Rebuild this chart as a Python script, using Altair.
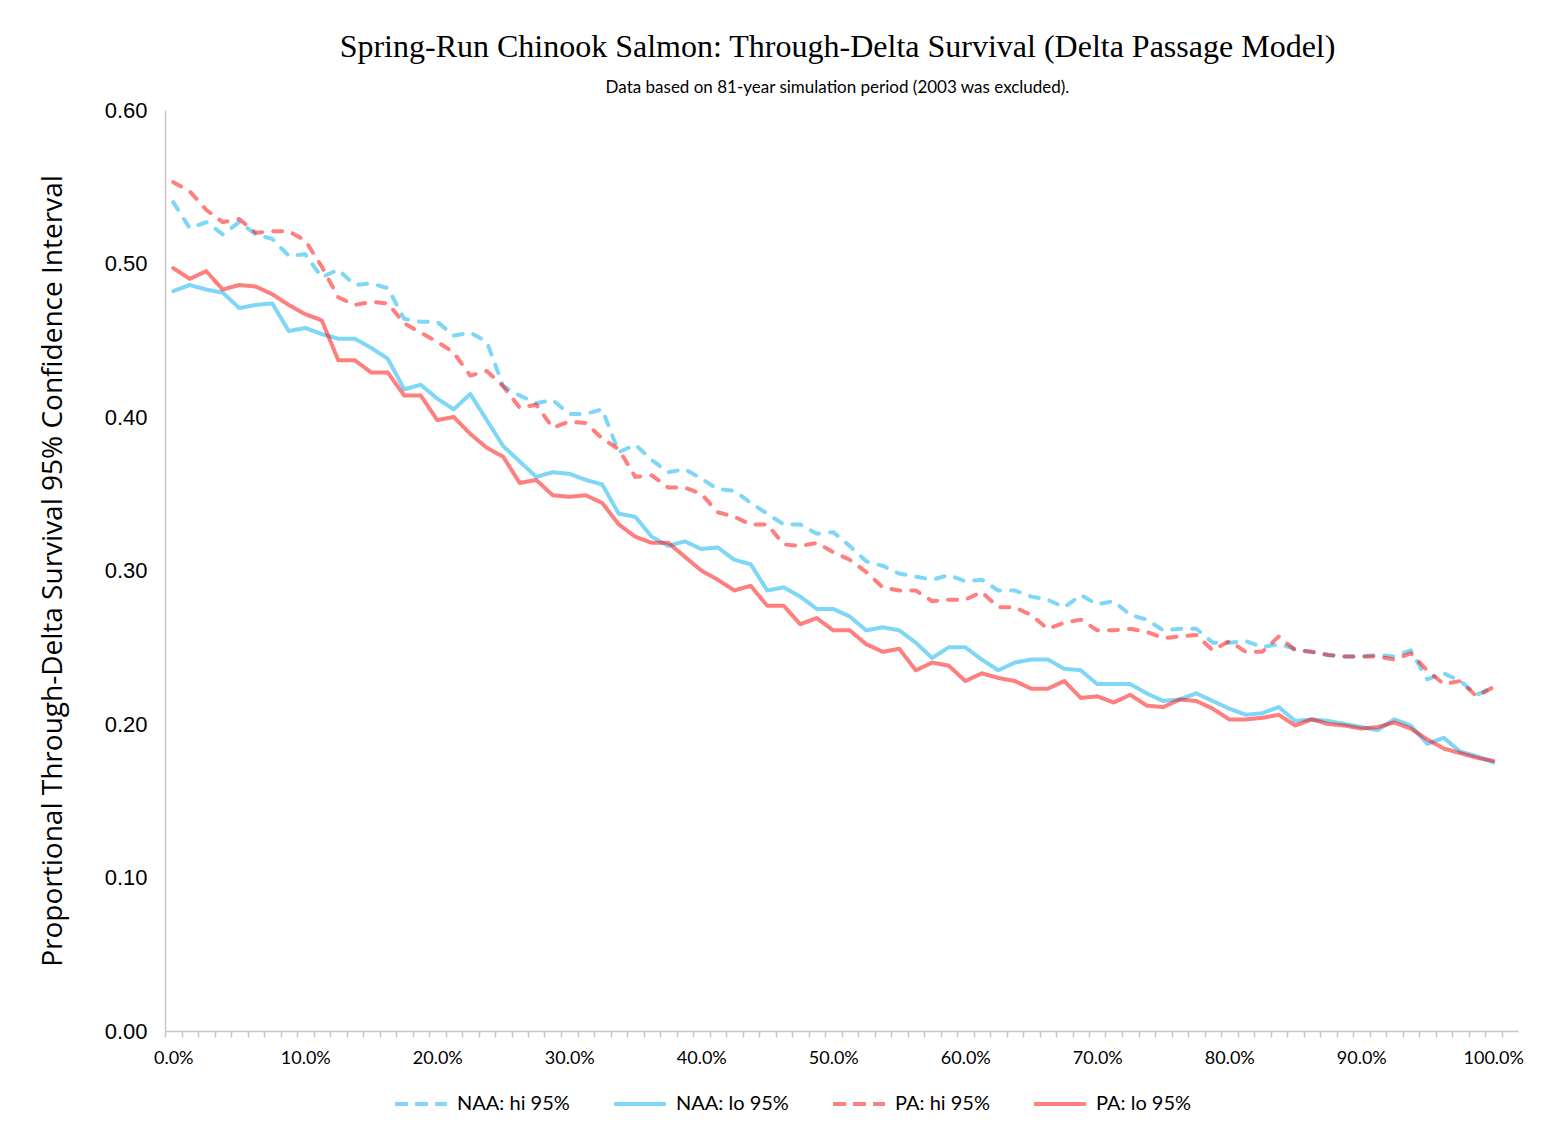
import altair as alt
import pandas as pd

series_names = ["NAA: hi 95%", "NAA: lo 95%", "PA: hi 95%", "PA: lo 95%"]

naa_hi = [0.540, 0.523, 0.527, 0.519, 0.527, 0.519, 0.516, 0.505, 0.506, 0.491,
          0.496, 0.486, 0.487, 0.484, 0.464, 0.462, 0.462, 0.453, 0.455, 0.449,
          0.420, 0.414, 0.409, 0.411, 0.402, 0.402, 0.405, 0.377, 0.382, 0.372,
          0.364, 0.366, 0.360, 0.353, 0.352, 0.344, 0.337, 0.330, 0.330, 0.324,
          0.325, 0.316, 0.306, 0.303, 0.298, 0.296, 0.294, 0.297, 0.293, 0.294,
          0.287, 0.287, 0.283, 0.281, 0.276, 0.284, 0.278, 0.280, 0.271, 0.268,
          0.261, 0.262, 0.262, 0.253, 0.253, 0.254, 0.250, 0.252, 0.249, 0.247,
          0.245, 0.244, 0.244, 0.245, 0.244, 0.248, 0.229, 0.233, 0.228, 0.219,
          0.224]

naa_lo = [0.482, 0.486, 0.483, 0.481, 0.471, 0.473, 0.474, 0.456, 0.458, 0.454,
          0.451, 0.451, 0.445, 0.438, 0.418, 0.421, 0.412, 0.405, 0.415, 0.398,
          0.381, 0.371, 0.361, 0.364, 0.363, 0.359, 0.356, 0.337, 0.335, 0.322,
          0.316, 0.319, 0.314, 0.315, 0.307, 0.304, 0.287, 0.289, 0.283, 0.275,
          0.275, 0.270, 0.261, 0.263, 0.261, 0.253, 0.243, 0.250, 0.250, 0.242,
          0.235, 0.240, 0.242, 0.242, 0.236, 0.235, 0.226, 0.226, 0.226, 0.220,
          0.215, 0.216, 0.220, 0.215, 0.210, 0.206, 0.207, 0.211, 0.202, 0.203,
          0.202, 0.200, 0.198, 0.196, 0.203, 0.199, 0.187, 0.191, 0.182, 0.179,
          0.175]

pa_hi = [0.553, 0.547, 0.535, 0.527, 0.529, 0.520, 0.521, 0.521, 0.515, 0.498,
         0.478, 0.473, 0.475, 0.474, 0.461, 0.455, 0.449, 0.442, 0.427, 0.430,
         0.420, 0.406, 0.408, 0.393, 0.397, 0.396, 0.386, 0.379, 0.361, 0.362,
         0.354, 0.354, 0.350, 0.338, 0.335, 0.330, 0.330, 0.317, 0.316, 0.318,
         0.312, 0.307, 0.299, 0.289, 0.287, 0.287, 0.280, 0.281, 0.281, 0.286,
         0.276, 0.276, 0.271, 0.262, 0.266, 0.268, 0.261, 0.261, 0.262, 0.260,
         0.256, 0.257, 0.258, 0.248, 0.254, 0.247, 0.247, 0.257, 0.248, 0.247,
         0.245, 0.244, 0.244, 0.244, 0.242, 0.246, 0.235, 0.226, 0.228, 0.218,
         0.224]

pa_lo = [0.497, 0.490, 0.495, 0.483, 0.486, 0.485, 0.480, 0.473, 0.467, 0.463,
         0.437, 0.437, 0.429, 0.429, 0.414, 0.414, 0.398, 0.400, 0.389, 0.380,
         0.374, 0.357, 0.359, 0.349, 0.348, 0.349, 0.344, 0.330, 0.322, 0.318,
         0.318, 0.309, 0.300, 0.294, 0.287, 0.290, 0.277, 0.277, 0.265, 0.269,
         0.261, 0.261, 0.252, 0.247, 0.249, 0.235, 0.240, 0.238, 0.228, 0.233,
         0.230, 0.228, 0.223, 0.223, 0.228, 0.217, 0.218, 0.214, 0.219, 0.212,
         0.211, 0.216, 0.215, 0.210, 0.203, 0.203, 0.204, 0.206, 0.199, 0.203,
         0.200, 0.199, 0.197, 0.198, 0.201, 0.197, 0.190, 0.184, 0.181, 0.178,
         0.176]

step = 1.25  # exceedance step in percent (81 points, 0% .. 100%)
pct = [i * step for i in range(len(naa_hi))]

y_ticks = [0.0, 0.1, 0.2, 0.3, 0.4, 0.5, 0.6]
x_tick_values = [k * step for k in range(83)]

rows = []
for name, vals in zip(series_names, [naa_hi, naa_lo, pa_hi, pa_lo]):
    for order, (p, v) in enumerate(zip(pct, vals)):
        rows.append({"series": name, "pct": p, "value": v, "ord": order})
df = pd.DataFrame(rows)

BLUE = "#00b0f0"
RED = "#ff0000"
AXIS_GRAY = "#c6c6c6"
colors = [BLUE, BLUE, RED, RED]

x_enc = alt.X(
    "pct:Q",
    scale=alt.Scale(domain=[-0.625, 101.875], nice=False, zero=False),
    axis=alt.Axis(
        title=None,
        values=x_tick_values,
        tickOffset=-8.25,
        labelOffset=8.25,
        labelExpr="datum.value % 10 === 0 ? format(datum.value / 100, '.1%') : ''",
        labelOverlap=False,
        labelFlush=False,
        labelFont="Lato",
        labelFontSize=18,
        labelColor="#000000",
        labelPadding=12,
        ticks=True,
        tickSize=6,
        tickColor=AXIS_GRAY,
        tickWidth=1.5,
        domainColor=AXIS_GRAY,
        domainWidth=1.5,
        grid=False,
    ),
)

y_enc = alt.Y(
    "value:Q",
    scale=alt.Scale(domain=[0, 0.6], nice=False),
    axis=alt.Axis(
        title="Proportional Through-Delta Survival 95% Confidence Interval",
        titleFont="Open Sans",
        titleFontSize=28,
        titleFontWeight="normal",
        titleColor="#000000",
        titlePadding=37,
        values=y_ticks,
        format=".2f",
        labelFont="Liberation Sans",
        labelFontSize=22,
        labelColor="#000000",
        labelPadding=18,
        ticks=False,
        domainColor=AXIS_GRAY,
        domainWidth=1.5,
        grid=False,
    ),
)

# visible lines (round-capped dashes)
lines = alt.Chart(df).mark_line(
    strokeWidth=4, opacity=0.5, strokeCap="round", strokeJoin="round"
).encode(
    x=x_enc,
    y=y_enc,
    color=alt.Color("series:N",
                    scale=alt.Scale(domain=series_names, range=colors),
                    legend=None),
    strokeDash=alt.StrokeDash("series:N",
                              scale=alt.Scale(domain=series_names,
                                              range=[[9, 11], [1, 0], [9, 11], [1, 0]]),
                              legend=None),
    order="ord:Q",
)

# transparent copy that only carries the legend (butt-capped dash look)
legend_layer = alt.Chart(df).mark_line(strokeWidth=4, opacity=0).encode(
    x=x_enc,
    y=y_enc,
    color=alt.Color(
        "series:N",
        scale=alt.Scale(domain=series_names, range=colors),
        legend=alt.Legend(
            title=None,
            orient="none",
            direction="horizontal",
            legendX=228,
            legendY=966,
            symbolType="stroke",
            symbolSize=2700,
            symbolStrokeWidth=4,
            symbolOpacity=0.5,
            labelFont="Lato",
            labelFontSize=20,
            labelColor="#000000",
            labelOffset=8,
            columnPadding=36,
        ),
    ),
    strokeDash=alt.StrokeDash(
        "series:N",
        scale=alt.Scale(domain=series_names, range=[[13, 7], [1, 0], [13, 7], [1, 0]]),
        legend=alt.Legend(title=None),
    ),
    order="ord:Q",
)

chart = alt.layer(lines, legend_layer).resolve_scale(
    color="independent", strokeDash="independent"
).properties(
    width=1353,
    height=921,
    padding={"left": 157, "top": 102, "right": 19, "bottom": 92},
    autosize=alt.AutoSizeParams(type="none"),
    title=alt.TitleParams(
        text="Spring-Run Chinook Salmon: Through-Delta Survival (Delta Passage Model)",
        subtitle="Data based on 81-year simulation period (2003 was excluded).",
        font="Liberation Serif",
        fontSize=32,
        fontWeight="normal",
        color="#000000",
        subtitleFont="Lato",
        subtitleFontSize=17,
        subtitleColor="#000000",
        subtitlePadding=16,
        anchor="middle",
        offset=2,
        dx=-4,
    ),
).configure(
    background="white"
).configure_view(
    stroke=None
)

chart.save("out.html", embed_options={"renderer": "svg", "actions": False})
